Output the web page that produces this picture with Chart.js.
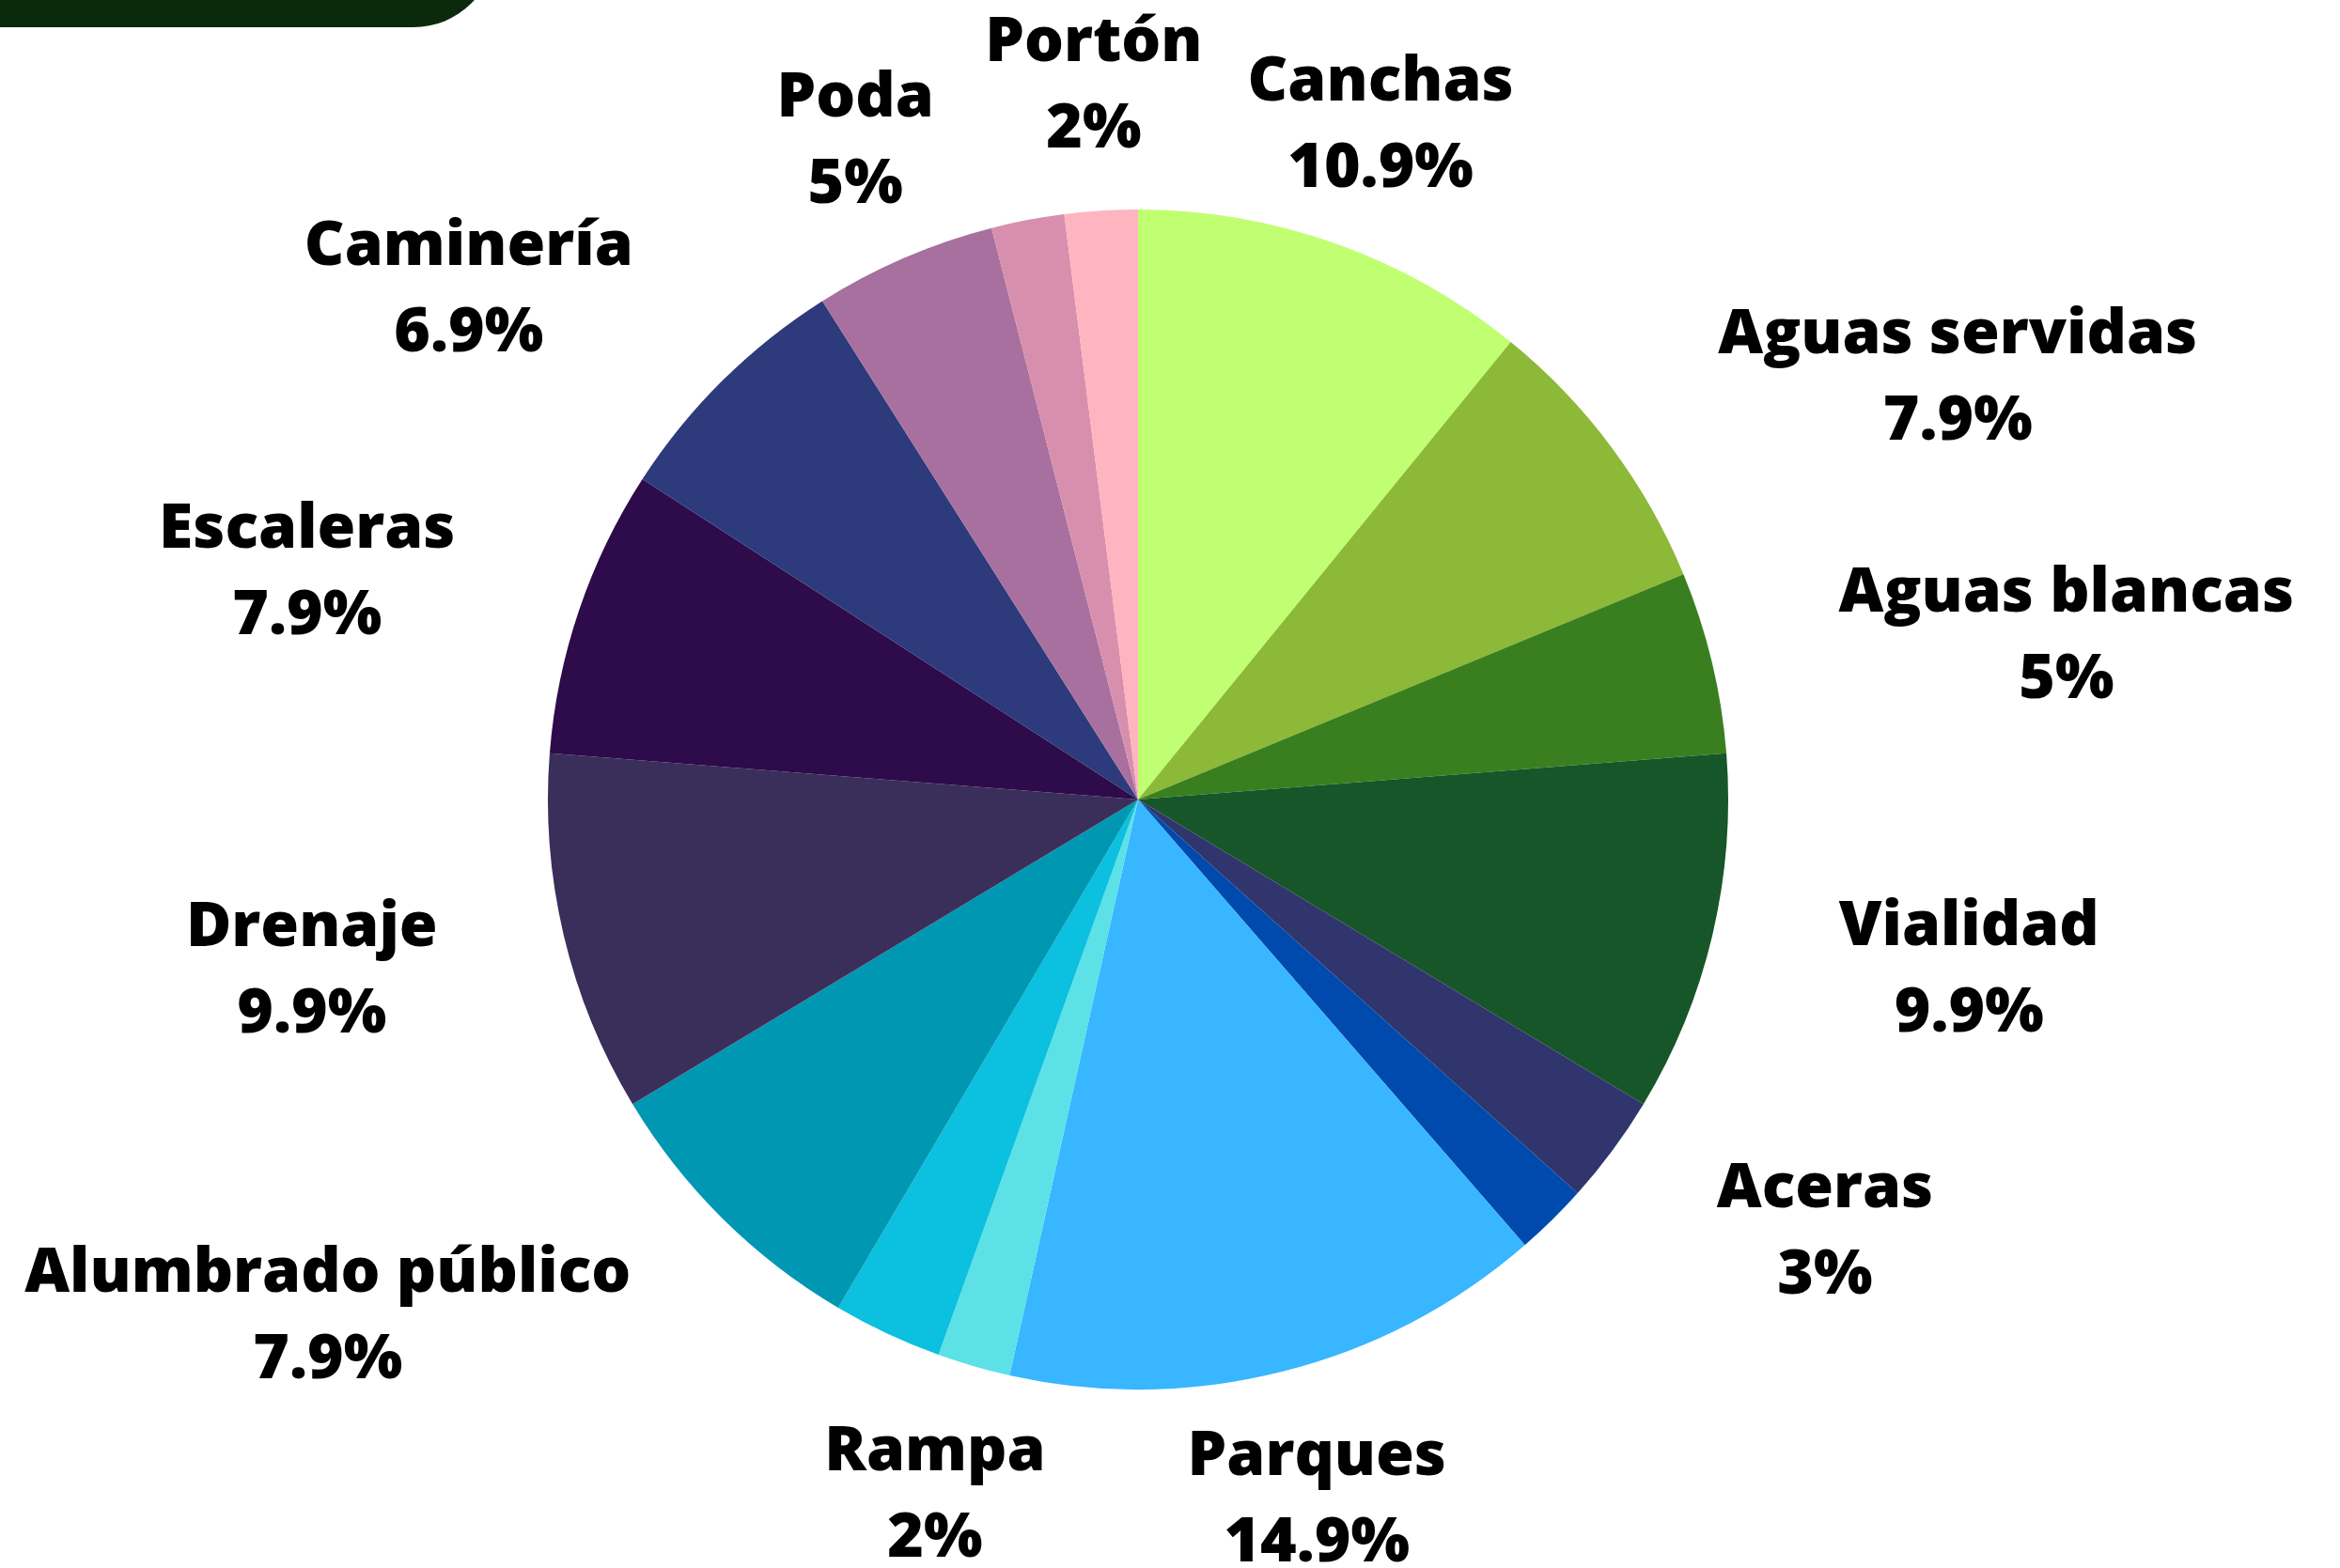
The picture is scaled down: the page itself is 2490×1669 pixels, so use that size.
<!DOCTYPE html>
<html lang="es">
<head>
<meta charset="utf-8">
<title>Distribución por tipo de obra</title>
<script src="https://cdn.jsdelivr.net/npm/chart.js@4/dist/chart.umd.min.js"></script>
<style>
  html, body { margin: 0; padding: 0; background: #ffffff; }
  #wrap { position: relative; width: 2490px; height: 1669px; overflow: hidden; }
  #tab { position: absolute; left: 0; top: -100px; width: 527px; height: 129px; background: #0b2a0b; border-radius: 0 0 87px 0; }
</style>
</head>
<body>
<div id="wrap">
  <canvas id="pie"></canvas>
  <div id="tab"></div>
</div>
<script>
// Porciones en sentido horario desde las 12; las que no llevan rótulo quedan con ""
const categorias = [
  "Canchas", "Aguas servidas", "Aguas blancas", "Vialidad", "Aceras", "",
  "Parques", "Rampa", "", "Alumbrado público", "Drenaje", "Escaleras",
  "Caminería", "Poda", "", "Portón",
];
const porcentajes = [10.9, 7.9, 5, 9.9, 3, 2, 14.9, 2, 3, 7.9, 9.9, 7.9, 6.9, 5, 2, 2];
const colores = [
  "#c1ff72", "#8cb937", "#3a7f1f", "#175628", "#31356d", "#004aad",
  "#38b6ff", "#5ce1e6", "#0cc0df", "#0097b2", "#3a2f5a", "#2e0b4a",
  "#2d3a7b", "#a8709e", "#d88fae", "#ffb5c0",
];

// posición de cada rótulo respecto al centro, en radios (x, y)
const rotuloPos = [
  [0.411, -1.142], [1.389, -0.713], [1.573, -0.275], [1.408, 0.290], [1.164, 0.735], null,
  [0.303, 1.189], [-0.344, 1.181], null, [-1.373, 0.877], [-1.400, 0.291], [-1.408, -0.384],
  [-1.134, -0.863], [-0.479, -1.115], null, [-0.075, -1.209],
];

const rotulos = {
  id: "rotulos",
  afterDatasetsDraw(chart) {
    const arc = chart.getDatasetMeta(0).data[0];
    if (!arc) return;
    const { x: cx, y: cy, outerRadius: r } = arc;
    const ctx = chart.ctx;
    const size = Math.round(r * 0.1045);
    const gap = r * 0.1465;
    ctx.save();
    ctx.fillStyle = "#000000";
    ctx.font = `800 ${size}px "Open Sans", sans-serif`;
    ctx.textAlign = "center";
    ctx.textBaseline = "middle";
    categorias.forEach((nombre, i) => {
      const pos = rotuloPos[i];
      if (!nombre || !pos) return;
      const x = cx + pos[0] * r;
      const y = cy + pos[1] * r;
      ctx.fillText(nombre, x, y - gap / 2);
      ctx.fillText(`${porcentajes[i]}%`, x, y + gap / 2);
    });
    ctx.restore();
  },
};

new Chart(document.getElementById("pie"), {
  type: "pie",
  data: {
    labels: categorias,
    datasets: [{ data: porcentajes, backgroundColor: colores, borderWidth: 0 }],
  },
  options: {
    responsive: true,
    maintainAspectRatio: false,
    animation: false,
    layout: { padding: { top: 223, bottom: 190, left: 583, right: 651 } },
    plugins: { legend: { display: false }, tooltip: { enabled: false } },
  },
  plugins: [rotulos],
});
</script>
</body>
</html>
